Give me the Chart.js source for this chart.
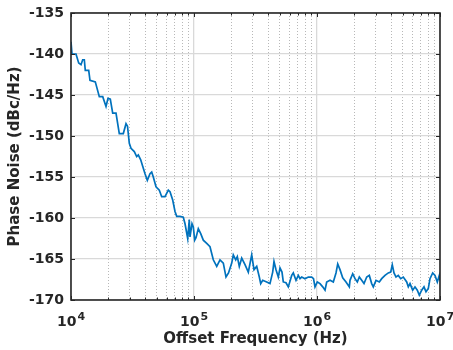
<!DOCTYPE html>
<html>
<head>
<meta charset="utf-8">
<script src="https://cdn.jsdelivr.net/npm/chart.js@4/dist/chart.umd.min.js"></script>
<style>
  html, body { margin: 0; padding: 0; background: #fff; }
  canvas { display: block; }
</style>
</head>
<body>
<canvas id="phaseNoiseChart" width="453" height="350"></canvas>
<script>
const offsetFreq = [
    10000, 10190, 10980, 11550, 12060, 12450, 12830, 13070, 13930, 14270,
    15760, 16990, 18110, 19260, 19990, 20870, 21830, 23220, 24700, 26620,
    28010, 28800, 29790, 30750, 32700, 34200, 35250, 36870, 38270, 39970,
    41730, 43880, 45300, 46680, 49110, 52230, 54630, 58100, 61810, 63810,
    67120, 70080, 72340, 76930, 81850, 84530, 88890, 91580, 92790, 96320,
    98700, 101300, 103800, 108400, 113400, 119000, 126900, 134900, 143500, 153000,
    162700, 173100, 182000, 190800, 202600, 208700, 218300, 224900, 233500, 244200,
    259800, 276400, 294500, 307500, 323500, 339600, 348600, 361800, 390000, 414800,
    436300, 447100, 464200, 484600, 500300, 519300, 532100, 559800, 584400, 622800,
    641700, 675000, 704700, 727500, 751000, 798700, 849600, 905700, 936700, 963200,
    1006000, 1058000, 1113000, 1162000, 1199000, 1276000, 1357000, 1427000, 1474000, 1538000,
    1618000, 1721000, 1831000, 1855000, 1951000, 2037000, 2127000, 2208000, 2309000, 2411000,
    2536000, 2662000, 2784000, 2869000, 3018000, 3210000, 3357000, 3571000, 3799000, 3973000,
    4094000, 4227000, 4388000, 4581000, 4792000, 5030000, 5362000, 5525000, 5704000, 5998000,
    6262000, 6538000, 6788000, 7099000, 7412000, 7695000, 8033000, 8292000, 8723000, 9106000,
    9507000, 9869000, 10000000
];

const phaseNoise = [
    -138.5, -140.0, -140.0, -141.1, -141.3, -140.7, -140.7, -142.0, -142.0, -143.2,
    -143.4, -145.2, -145.2, -146.4, -145.4, -145.5, -147.2, -147.2, -149.7, -149.7,
    -148.5, -148.8, -150.9, -151.5, -151.9, -152.5, -152.3, -152.9, -153.7, -154.6,
    -155.4, -154.6, -154.4, -155.0, -156.2, -156.6, -157.4, -157.4, -156.6, -156.8,
    -157.8, -159.2, -159.8, -159.8, -159.9, -160.7, -162.5, -160.2, -162.3, -160.7,
    -161.1, -162.7, -162.4, -161.3, -161.9, -162.7, -163.1, -163.5, -165.1, -165.9,
    -165.1, -165.5, -167.2, -166.7, -165.5, -164.5, -165.1, -164.7, -165.9, -164.9,
    -165.7, -166.6, -164.5, -166.3, -165.9, -167.2, -168.0, -167.6, -167.8, -168.0,
    -166.6, -165.3, -166.3, -167.2, -166.1, -166.6, -167.8, -167.9, -168.4, -167.0,
    -166.7, -167.6, -167.0, -167.4, -167.2, -167.4, -167.2, -167.2, -167.4, -168.4,
    -167.8, -168.0, -168.4, -168.8, -167.8, -167.6, -167.8, -166.7, -165.6, -166.3,
    -167.3, -167.8, -168.4, -167.6, -166.8, -167.4, -167.8, -167.2, -167.6, -168.0,
    -167.2, -167.0, -168.0, -168.4, -167.6, -167.8, -167.4, -167.0, -166.7, -166.6,
    -165.7, -166.7, -167.2, -167.0, -167.4, -167.2, -167.8, -168.4, -168.0, -168.8,
    -168.4, -168.8, -169.4, -168.8, -168.4, -169.0, -168.6, -167.4, -166.7, -167.0,
    -167.8, -167.0, -167.6
];

const xDecades = [1e4, 1e5, 1e6, 1e7];
const xMinorSteps = [2, 3, 4, 5, 6, 7, 8, 9];
const yTicks = [-170, -165, -160, -155, -150, -145, -140, -135];

const xTitle = 'Offset Frequency (Hz)';
const yTitle = 'Phase Noise (dBc/Hz)';

const textColor = '#262626';
const lineColor = '#0072BD';
const fontFamily = '"DejaVu Sans", sans-serif';

const xMinorTicks = xDecades.slice(0, -1).flatMap(d => xMinorSteps.map(m => d * m));

// box around the axes with inward ticks, matlab style
const axesBox = {
    id: 'axesBox',
    afterDatasetsDraw(chart) {
        const { ctx, chartArea: a, scales } = chart;
        ctx.save();
        ctx.strokeStyle = textColor;
        ctx.lineWidth = 1;
        ctx.beginPath();
        const xTick = (v, len) => {
            const px = Math.round(scales.x.getPixelForValue(v)) + 0.5;
            ctx.moveTo(px, a.bottom); ctx.lineTo(px, a.bottom - len);
            ctx.moveTo(px, a.top); ctx.lineTo(px, a.top + len);
        };
        xDecades.forEach(v => xTick(v, 4));
        xMinorTicks.forEach(v => xTick(v, 2.5));
        yTicks.forEach(v => {
            const py = Math.round(scales.y.getPixelForValue(v)) + 0.5;
            ctx.moveTo(a.left, py); ctx.lineTo(a.left + 4, py);
            ctx.moveTo(a.right, py); ctx.lineTo(a.right - 4, py);
        });
        ctx.stroke();
        ctx.lineWidth = 1.6;
        ctx.strokeRect(a.left, a.top, a.width, a.height);
        ctx.restore();
    }
};

// x tick labels as 10 with a raised exponent
const powerLabels = {
    id: 'powerLabels',
    afterDraw(chart) {
        const { ctx, scales: { x } } = chart;
        ctx.save();
        ctx.fillStyle = textColor;
        ctx.textBaseline = 'alphabetic';
        ctx.textAlign = 'left';
        xDecades.forEach(v => {
            const base = '10';
            const exp = String(Math.round(Math.log10(v)));
            ctx.font = 'bold 14px ' + fontFamily;
            const wb = ctx.measureText(base).width;
            ctx.font = 'bold 11px ' + fontFamily;
            const we = ctx.measureText(exp).width;
            const left = x.getPixelForValue(v) - (wb + we + 1) / 2;
            ctx.font = 'bold 14px ' + fontFamily;
            ctx.fillText(base, left, x.top + 26);
            ctx.font = 'bold 11px ' + fontFamily;
            ctx.fillText(exp, left + wb + 1, x.top + 20);
        });
        ctx.restore();
    }
};

const ctx = document.getElementById('phaseNoiseChart').getContext('2d');

new Chart(ctx, {
    type: 'line',
    data: {
        datasets: [{
            data: offsetFreq.map((f, i) => ({ x: f, y: phaseNoise[i] })),
            borderColor: lineColor,
            borderWidth: 1.7,
            pointRadius: 0,
            tension: 0,
            fill: false
        }]
    },
    options: {
        responsive: false,
        animation: false,
        layout: { padding: { top: 13, right: 13, left: 0, bottom: 0 } },
        plugins: { legend: { display: false }, tooltip: { enabled: false } },
        scales: {
            x: {
                type: 'logarithmic',
                position: 'bottom',
                min: 1e4,
                max: 1e7,
                afterBuildTicks: (s) => { s.ticks = xDecades.map(v => ({ value: v, major: true })); },
                afterFit: (s) => { s.height = 50; s.paddingLeft = 0; s.paddingRight = 0; },
                grid: { color: '#d9d9d9', lineWidth: 1.3, drawTicks: false },
                border: { display: false },
                ticks: { display: false },
                title: {
                    display: true,
                    text: xTitle,
                    color: textColor,
                    padding: { top: 2, bottom: 2 },
                    font: { family: fontFamily, size: 15, weight: 'bold' }
                }
            },
            xMinor: {
                type: 'logarithmic',
                position: 'bottom',
                min: 1e4,
                max: 1e7,
                afterBuildTicks: (s) => { s.ticks = xMinorTicks.map(v => ({ value: v })); },
                afterFit: (s) => { s.height = 0; s.paddingLeft = 0; s.paddingRight = 0; },
                grid: { color: '#b8b8b8', lineWidth: 1, drawTicks: false },
                border: { display: false, dash: [1, 2] },
                ticks: { display: false }
            },
            y: {
                type: 'linear',
                min: -170,
                max: -135,
                afterBuildTicks: (s) => { s.ticks = yTicks.map(v => ({ value: v })); },
                afterFit: (s) => { s.width = 71; s.paddingTop = 0; s.paddingBottom = 0; },
                grid: { color: '#d9d9d9', lineWidth: 1.3, drawTicks: false },
                border: { display: false },
                ticks: {
                    padding: 7,
                    color: textColor,
                    font: { family: fontFamily, size: 14, weight: 'bold' }
                },
                title: {
                    display: true,
                    text: yTitle,
                    color: textColor,
                    padding: { top: 6, bottom: 0 },
                    font: { family: fontFamily, size: 15, weight: 'bold' }
                }
            }
        }
    },
    plugins: [axesBox, powerLabels]
});
</script>
</body>
</html>
